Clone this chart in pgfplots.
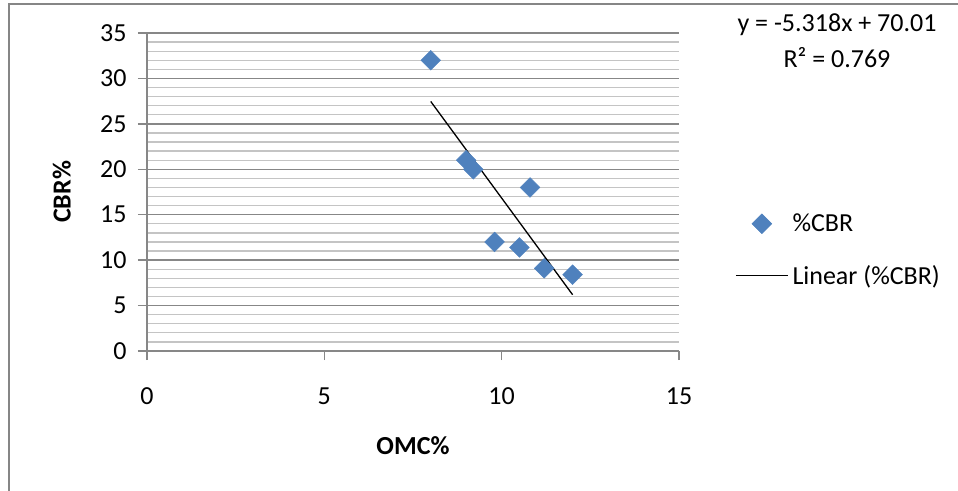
\documentclass[border=0pt]{standalone}
\usepackage{pgfplots}
\pgfplotsset{compat=1.18}
\usepackage{fontspec}
\setmainfont{Carlito}
\definecolor{markblue}{HTML}{4F81BD}
\definecolor{majgrid}{HTML}{878787}
\definecolor{mingrid}{HTML}{C4C4C4}
\definecolor{frame}{HTML}{868686}
\newcommand{\fsz}{\fontsize{26}{31}\selectfont}
\pgfplotsset{
  marklegend/.style={legend image code/.code={\draw[##1] plot coordinates {(26pt,0pt)};}},
  linelegend/.style={legend image code/.code={\draw[##1] (0pt,0pt) -- (52pt,0pt);}},
}
\begin{document}
\begin{tikzpicture}[x=1pt,y=1pt]
\useasboundingbox (0,0) rectangle (958,490);
\draw[frame, line width=2pt] (8.5,-20) rectangle (990,486);
\begin{axis}[
  at={(147pt,139pt)}, anchor=south west,
  scale only axis, width=532pt, height=318pt,
  xmin=0, xmax=15, ymin=0, ymax=35,
  xtick={0,5,10,15}, ytick={0,5,...,35},
  minor y tick num=4,
  ymajorgrids, yminorgrids,
  major grid style={draw=majgrid, line width=1.3pt},
  minor grid style={draw=mingrid, line width=1.3pt},
  axis x line=bottom, axis y line=left,
  axis line style={-, draw=majgrid, line width=1.3pt},
  tick align=outside,
  major tick length=9pt, minor tick length=0pt,
  tick style={draw=majgrid, line width=1.3pt},
  /pgf/number format/assume math mode=true,
  ticklabel style={font=\fsz},
  xticklabel style={yshift=-24pt},
  yticklabel style={xshift=-8pt},
  xlabel={\textbf{OMC\%}},
  ylabel={\textbf{CBR\%}},
  label style={font=\fsz},
  xlabel style={at={(axis description cs:0.5,-0.299)}, anchor=center},
  ylabel style={at={(axis description cs:-0.16,0.5)}, anchor=center},
  legend style={at={(axis description cs:1.1053,0.3176)}, anchor=west,
    draw=none, fill=none, inner sep=0pt, row sep=28pt, font=\fsz,
    nodes={inner ysep=2pt, inner xsep=4pt}},
  legend cell align=left,
]
\addplot[only marks, mark=square*, mark size=7pt,
  mark options={rotate=45, fill=markblue, draw=markblue}, marklegend]
  coordinates {(8,32) (9,21) (9.2,20) (10.8,18) (9.8,12) (10.5,11.4) (11.2,9.1) (12,8.4)};
\addlegendentry{\%CBR}
\addplot[black, line width=1.3pt, mark=none, linelegend]
  coordinates {(8,27.466) (12,6.194)};
\addlegendentry{Linear (\%CBR)}
\end{axis}
\node[font=\fsz] at (837,465) {y = -5.318x + 70.01};
\node[font=\fsz] at (837,432) {R² = 0.769};
\end{tikzpicture}
\end{document}
